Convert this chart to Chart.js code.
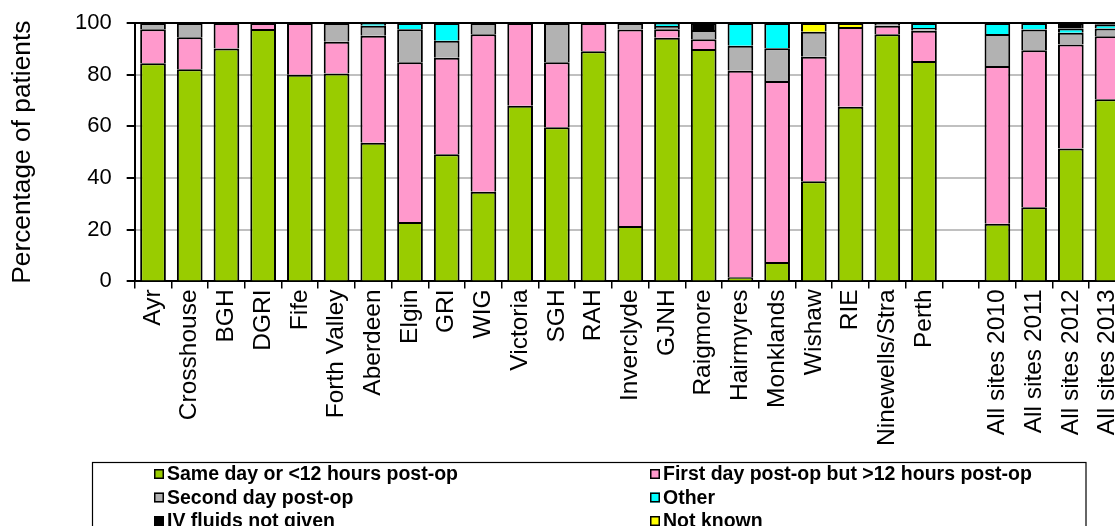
<!DOCTYPE html>
<html>
<head>
<meta charset="utf-8">
<script src="https://cdn.jsdelivr.net/npm/chart.js@4"></script>
<style>
  html, body { margin: 0; padding: 0; background: #fff; overflow: hidden; width: 1115px; height: 526px; }
  #wrap { width: 1138px; height: 526px; }
</style>
</head>
<body>
<div id="wrap"><canvas id="c" width="1138" height="526"></canvas></div>
<script>
const categories = ['Ayr','Crosshouse','BGH','DGRI','Fife','Forth Valley','Aberdeen','Elgin','GRI','WIG','Victoria','SGH','RAH','Inverclyde','GJNH','Raigmore','Hairmyres','Monklands','Wishaw','RIE','Ninewells/Stra','Perth','','All sites 2010','All sites 2011','All sites 2012','All sites 2013'];

const sameDay    = [84.4, 82.1, 90.1, 97.7, 80.0, 80.5, 53.7, 23.0, 49.2, 34.7, 68.0, 59.7, 89.1, 21.4, 94.3, 89.9,  1.6,  7.5, 38.8, 67.6, 95.6, 85.3, null, 22.3, 28.7, 51.4, 70.5];
const firstDay   = [13.2, 12.4,  9.9,  2.3, 20.0, 12.2, 41.4, 61.8, 37.4, 60.9, 32.0, 25.1, 10.9, 76.1,  3.3,  3.8, 79.9, 70.1, 48.1, 30.9,  3.3, 11.7, null, 61.1, 60.8, 40.3, 24.4];
const secondDay  = [ 2.4,  5.5,  0,    0,    0,    7.3,  3.8, 12.8,  6.5,  4.4,  0,   15.2,  0,    2.5,  1.2,  3.6,  9.7, 12.6,  9.7,  0,    1.1,  1.1, null, 12.3,  8.0,  4.5,  3.0];
const other      = [ 0,    0,    0,    0,    0,    0,    1.1,  2.4,  6.9,  0,    0,    0,    0,    0,    1.2,  0,    8.8,  9.8,  0,    0,    0,    1.9, null,  4.3,  2.5,  1.7,  1.4];
const ivNotGiven = [ 0,    0,    0,    0,    0,    0,    0,    0,    0,    0,    0,    0,    0,    0,    0,    2.7,  0,    0,    0,    0,    0,    0,   null,  0,    0,    2.1,  0.7];
const notKnown   = [ 0,    0,    0,    0,    0,    0,    0,    0,    0,    0,    0,    0,    0,    0,    0,    0,    0,    0,    3.4,  1.5,  0,    0,   null,  0,    0,    0,    0  ];

const seriesNames = ['Same day or <12 hours post-op', 'First day post-op but >12 hours post-op', 'Second day post-op', 'Other', 'IV fluids not given', 'Not known'];
const seriesColors = ['#99CC00', '#FF99CC', '#B2B2B2', '#00FFFF', '#000000', '#FFFF00'];
const seriesValues = [sameDay, firstDay, secondDay, other, ivNotGiven, notKnown];
const yAxisTitle = 'Percentage of patients';

const FONT = '"Liberation Sans", Arial, sans-serif';

const legendBox = {
  id: 'legendBox',
  afterDraw(chart) {
    const ctx = chart.ctx;
    ctx.save();
    ctx.strokeStyle = '#000';
    ctx.lineWidth = 1.2;
    ctx.strokeRect(92.5, 462.5, 993.5, 100);
    const colX = [154, 650];
    const rowY = [474, 497.5, 521];
    ctx.font = 'bold 19.5px ' + FONT;
    ctx.textBaseline = 'middle';
    ctx.textAlign = 'left';
    chart.data.datasets.forEach((ds, i) => {
      const x = colX[i % 2];
      const y = rowY[Math.floor(i / 2)];
      ctx.fillStyle = ds.backgroundColor;
      ctx.fillRect(x, y - 5, 10, 10);
      ctx.lineWidth = 1.5;
      ctx.strokeStyle = '#000';
      ctx.strokeRect(x + 0.75, y - 4.25, 8.5, 8.5);
      ctx.fillStyle = '#000';
      ctx.fillText(ds.label, x + 13, y + 1);
    });
    ctx.restore();
  }
};

new Chart(document.getElementById('c'), {
  type: 'bar',
  data: {
    labels: categories,
    datasets: seriesNames.map((name, i) => ({
      label: name,
      data: seriesValues[i],
      backgroundColor: seriesColors[i],
      borderColor: '#000',
      borderWidth: 2,
      barPercentage: 0.7,
      categoryPercentage: 1.0
    }))
  },
  options: {
    responsive: false,
    animation: false,
    layout: { padding: { top: 23, right: 4, bottom: 79, left: 0 } },
    plugins: { legend: { display: false }, tooltip: { enabled: false } },
    scales: {
      x: {
        stacked: true,
        grid: { display: true, drawOnChartArea: false, drawTicks: true, tickLength: 7, tickColor: '#000', lineWidth: 1.5, color: '#000' },
        border: { display: true, color: '#000', width: 2 },
        ticks: { autoSkip: false, maxRotation: 90, minRotation: 90, padding: 1, color: '#000', font: { family: FONT, size: 24.5 } }
      },
      y: {
        stacked: true,
        min: 0, max: 100,
        grid: {
          color: (c) => (c.tick && c.tick.value === 100 ? '#000' : '#C0C0C0'),
          lineWidth: 2,
          tickColor: '#000',
          tickLength: 8,
          drawTicks: true
        },
        border: { display: true, color: '#000', width: 2 },
        ticks: { stepSize: 20, padding: 15, color: '#000', font: { family: FONT, size: 22, lineHeight: 0.6 } },
        title: { display: true, text: yAxisTitle, color: '#000', font: { family: FONT, size: 26.3 }, padding: { top: 7, bottom: 21.4 } }
      }
    }
  },
  plugins: [legendBox]
});
</script>
</body>
</html>
